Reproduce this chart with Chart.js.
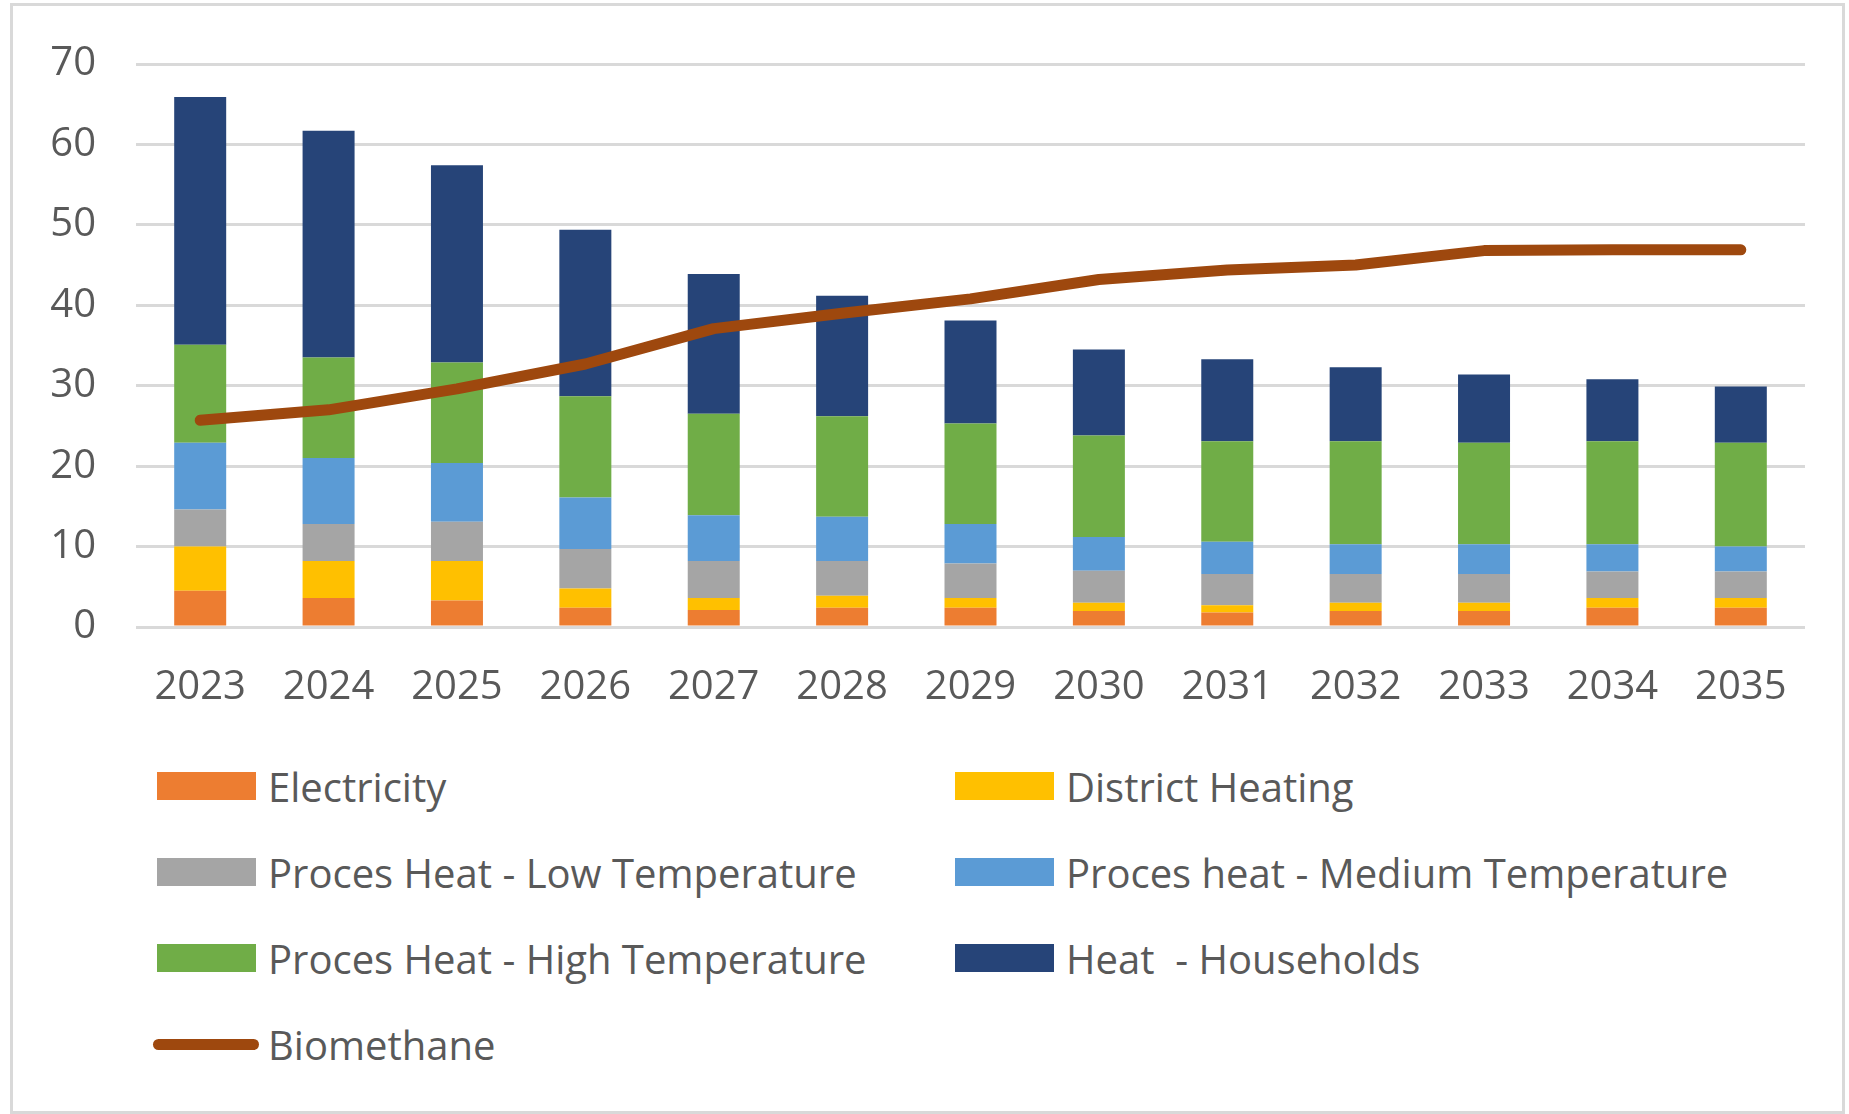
<!DOCTYPE html>
<html>
<head>
<meta charset="utf-8">
<script src="https://cdn.jsdelivr.net/npm/chart.js@4/dist/chart.umd.min.js"></script>
<style>
  body { margin: 0; background: #fff; }
  #page { position: relative; width: 1849px; height: 1114px; overflow: hidden; }
  #frame { position: absolute; left: 10px; top: 3px; width: 1829px; height: 1105px; border: 3px solid #d9d9d9; }
  #plot { position: absolute; left: 0; top: 0; }
  #legend {
    position: absolute; left: 157px; top: 743px;
    display: grid; grid-template-columns: 798px auto; grid-auto-rows: 86px;
    font-family: "Open Sans", sans-serif; font-size: 40px; color: #595959;
  }
  #legend .item { display: flex; align-items: center; }
  #legend .box { width: 99px; height: 28px; margin-right: 12px; }
  #legend .stroke { width: 106px; height: 11px; border-radius: 6px; margin-left: -4px; margin-right: 9px; }
</style>
</head>
<body>
<div id="page">
  <div id="frame"></div>
  <canvas id="plot" width="1849" height="740"></canvas>
  <div id="legend"></div>
</div>
<script>
// years on the x axis
const years = ['2023', '2024', '2025', '2026', '2027', '2028', '2029', '2030', '2031', '2032', '2033', '2034', '2035'];

// stacked demand per sector
const electricity     = [4.5, 3.6, 3.3, 2.4, 2.1, 2.4, 2.4, 2.0, 1.8, 2.0, 2.0, 2.4, 2.4];
const districtHeating = [5.5, 4.6, 4.9, 2.4, 1.5, 1.5, 1.2, 1.0, 0.9, 1.0, 1.0, 1.2, 1.2];
const lowTemp         = [4.6, 4.6, 4.9, 4.9, 4.6, 4.3, 4.3, 4.0, 3.9, 3.6, 3.6, 3.3, 3.3];
const mediumTemp      = [8.3, 8.2, 7.3, 6.4, 5.7, 5.5, 4.9, 4.2, 4.0, 3.7, 3.7, 3.4, 3.1];
const highTemp        = [12.2, 12.5, 12.5, 12.6, 12.6, 12.5, 12.5, 12.6, 12.5, 12.8, 12.6, 12.8, 12.9];
const households      = [30.8, 28.2, 24.5, 20.7, 17.4, 15.0, 12.8, 10.7, 10.2, 9.2, 8.5, 7.7, 7.0];

// supply line
const biomethane = [25.7, 27.0, 29.6, 32.7, 37.1, 39.0, 40.8, 43.2, 44.4, 45.0, 46.8, 46.9, 46.9];

const yTicks = [0, 10, 20, 30, 40, 50, 60, 70];

const textColor = '#595959';
const font = { family: '"Open Sans", sans-serif', size: 40 };

function bar(label, data, color) {
  return { type: 'bar', label, data, backgroundColor: color, order: 1, stack: 'demand' };
}

const ctx = document.getElementById('plot').getContext('2d');

const chart = new Chart(ctx, {
  data: {
    labels: years,
    datasets: [
      bar('Electricity', electricity, '#ED7D31'),
      bar('District Heating', districtHeating, '#FFC000'),
      bar('Proces Heat - Low Temperature', lowTemp, '#A5A5A5'),
      bar('Proces heat - Medium Temperature', mediumTemp, '#5B9BD5'),
      bar('Proces Heat - High Temperature', highTemp, '#70AD47'),
      bar('Heat  - Households', households, '#264478'),
      {
        type: 'line',
        label: 'Biomethane',
        data: biomethane,
        borderColor: '#9E480E',
        backgroundColor: '#9E480E',
        borderWidth: 11,
        borderCapStyle: 'round',
        borderJoinStyle: 'round',
        pointRadius: 0,
        tension: 0,
        order: 0,
        stack: 'supply'
      }
    ]
  },
  options: {
    responsive: false,
    animation: false,
    layout: { padding: { left: 11, top: 61, right: 44, bottom: 0 } },
    datasets: { bar: { categoryPercentage: 1, barPercentage: 0.405 } },
    scales: {
      x: {
        stacked: true,
        grid: { display: false },
        border: { display: false },
        ticks: { color: textColor, font, padding: 29, maxRotation: 0 },
        afterFit: (s) => { s.height = 113; }
      },
      y: {
        stacked: true,
        min: 0,
        max: 70,
        afterBuildTicks: (s) => { s.ticks = yTicks.map(v => ({ value: v })); },
        grid: { color: '#d9d9d9', lineWidth: 3, drawTicks: false },
        border: { display: false },
        ticks: { color: textColor, font, padding: 40 },
        afterFit: (s) => { s.width = 125; }
      }
    },
    plugins: {
      legend: { display: false },
      tooltip: { enabled: false }
    }
  }
});

// two-column legend built from the chart's datasets
const legend = document.getElementById('legend');
chart.data.datasets.forEach(ds => {
  const item = document.createElement('div');
  item.className = 'item';
  const sw = document.createElement('span');
  sw.className = ds.type === 'line' ? 'stroke' : 'box';
  sw.style.background = ds.type === 'line' ? ds.borderColor : ds.backgroundColor;
  const txt = document.createElement('span');
  txt.textContent = ds.label;
  txt.style.whiteSpace = 'pre';
  item.appendChild(sw);
  item.appendChild(txt);
  legend.appendChild(item);
});
</script>
</body>
</html>
